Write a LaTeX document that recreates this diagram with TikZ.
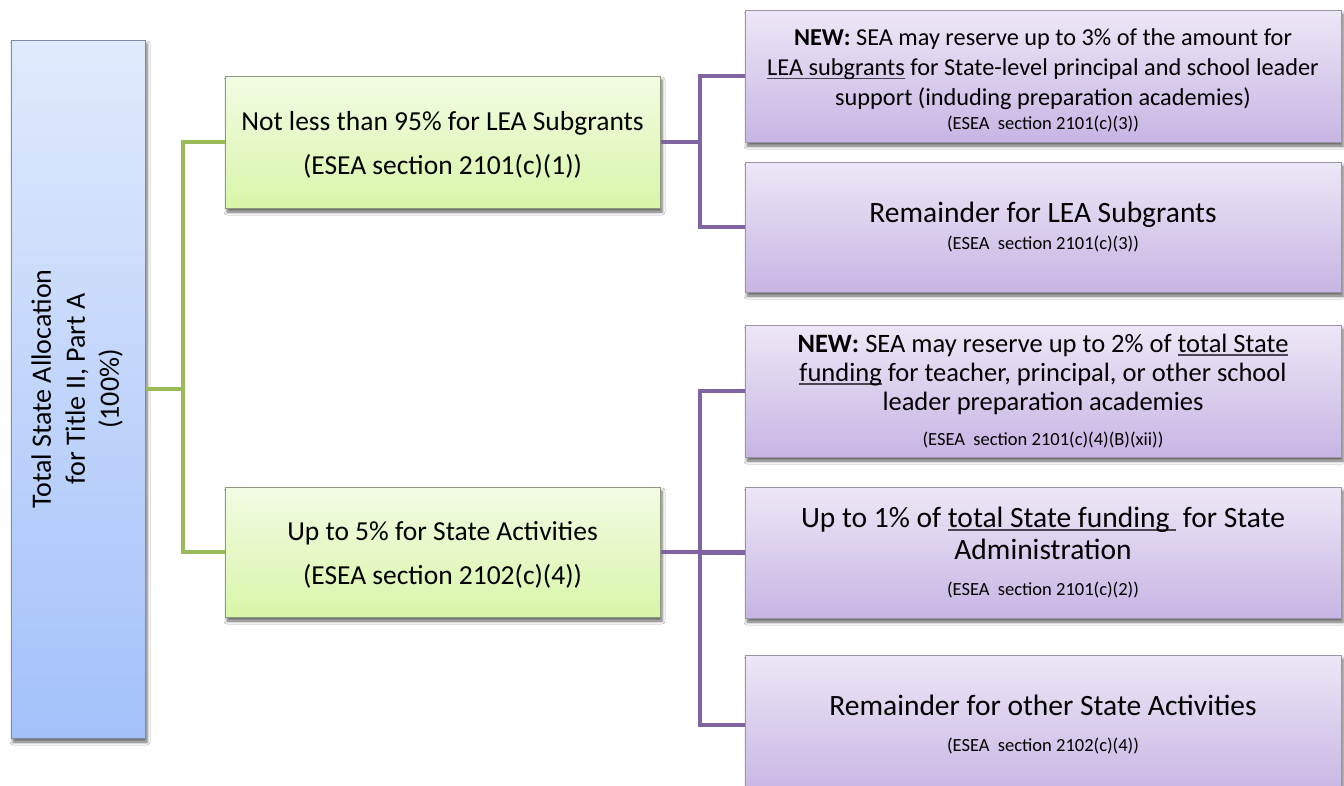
\documentclass[tikz,border=0pt]{standalone}
\usepackage{fontspec}
\setmainfont{Carlito}
\usetikzlibrary{shadows.blur}
\definecolor{rootTop}{HTML}{E0EAFC}
\definecolor{rootBot}{HTML}{A3C1FA}
\definecolor{rootLine}{HTML}{7F8DAA}
\definecolor{grTop}{HTML}{F2FBE3}
\definecolor{grBot}{HTML}{D8F6A9}
\definecolor{grLine}{HTML}{8E9A7E}
\definecolor{puTop}{HTML}{EDE7F6}
\definecolor{puBot}{HTML}{C7B5E4}
\definecolor{puLine}{HTML}{9C93A8}
\definecolor{gConn}{HTML}{9BBB59}
\definecolor{pConn}{HTML}{8064A2}
\definecolor{ulcol}{HTML}{4A4550}
\newcommand\myul[1]{\sbox0{#1}\rlap{\textcolor{ulcol}{\rule[-3.5pt]{\wd0}{1.7pt}}}\usebox0}
\newcommand\smalltxt[1]{{\fontsize{18.5}{20}\selectfont #1}}
\tikzset{
  boxbase/.style={rectangle, inner sep=0pt, align=center, line width=1pt,
    blur shadow={shadow xshift=2pt, shadow yshift=-4pt, shadow blur radius=3pt, shadow opacity=60}},
  rootbox/.style={boxbase, draw=rootLine, top color=rootTop, bottom color=rootBot,
    minimum width=134pt, minimum height=698pt},
  greenbox/.style={boxbase, draw=grLine, top color=grTop, bottom color=grBot,
    minimum width=435pt, font=\fontsize{27.5}{44}\selectfont},
  purplebox/.style={boxbase, draw=puLine, top color=puTop, bottom color=puBot,
    minimum width=596pt},
  gline/.style={draw=gConn, line width=4.5pt, line join=miter},
  pline/.style={draw=pConn, line width=4.5pt, line join=miter}
}
\begin{document}
\begin{tikzpicture}[x=1pt,y=1pt]
\useasboundingbox (0,0) rectangle (1344,-785);
\clip (0,0) rectangle (1344,-785);
\fill[white] (0,0) rectangle (1344,-785);

\coordinate (gtrunk) at (183,0);
\coordinate (ptrunk) at (700,0);

\node[rootbox] (root) at (78,-389) {\rotatebox{90}{\fontsize{28}{34}\selectfont\begin{tabular}{@{}c@{}}Total State Allocation\\for Title II, Part A\\(100\%)\end{tabular}}};

\node[greenbox, minimum height=132pt] (g1) at (442.5,-142)
  {\rule{0pt}{24pt}Not less than 95\% for LEA Subgrants\\(ESEA section 2101(c)(1))};
\node[greenbox, minimum height=130pt] (g2) at (442.5,-552)
  {\rule{0pt}{24pt}Up to 5\% for State Activities\\(ESEA section 2102(c)(4))};

\node[purplebox, minimum height=132pt, font=\fontsize{24.3}{30}\selectfont] (pa) at (1043,-76)
  {\rule{0pt}{26pt}\textbf{NEW:} SEA may reserve up to 3\% of the amount for\\
   \myul{LEA subgrants} for State-level principal and school leader\\
   support (induding preparation academies)\\[-6pt]
   \smalltxt{(ESEA\ \ section 2101(c)(3))}};
\node[purplebox, minimum height=130pt, font=\fontsize{29.5}{27}\selectfont] (pb) at (1043,-227)
  {Remainder for LEA Subgrants\\
   \smalltxt{(ESEA\ \ section 2101(c)(3))}};
\node[purplebox, minimum height=132pt, font=\fontsize{26.5}{29}\selectfont] (pc) at (1043,-391)
  {\textbf{NEW:} SEA may reserve up to 2\% of \myul{total State}\\
   \myul{funding} for teacher, principal, or other school\\
   leader preparation academies\\[6pt]
   \smalltxt{(ESEA\ \ section 2101(c)(4)(B)(xii))}};
\node[purplebox, minimum height=131pt, font=\fontsize{29.5}{32}\selectfont] (pd) at (1043,-552.5)
  {Up to 1\% of \myul{total State funding\ } for State\\
   Administration\\[4pt]
   \smalltxt{(ESEA\ \ section 2101(c)(2))}};
\node[purplebox, minimum height=140pt, font=\fontsize{29.5}{36}\selectfont] (pe) at (1043,-725)
  {Remainder for other State Activities\\
   \smalltxt{(ESEA\ \ section 2102(c)(4))}};

\draw[gline] (root.east) -- (root.east -| gtrunk);
\draw[gline] (g1.west) -- (g1.west -| gtrunk) -- (g2.west -| gtrunk) -- (g2.west);

\draw[pline] (g1.east) -- (g1.east -| ptrunk);
\draw[pline] (pa.west) -- (pa.west -| ptrunk) -- (pb.west -| ptrunk) -- (pb.west);

\draw[pline] (g2.east) -- (g2.east -| ptrunk);
\draw[pline] (pc.west) -- (pc.west -| ptrunk) -- (pe.west -| ptrunk) -- (pe.west);
\draw[pline] (pd.west) -- (pd.west -| ptrunk);
\end{tikzpicture}
\end{document}
